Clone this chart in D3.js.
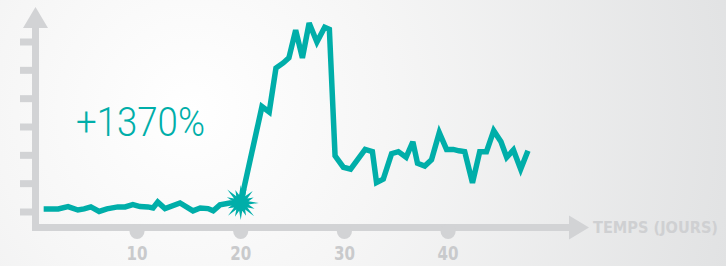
<!DOCTYPE html>
<html>
<head>
<meta charset="utf-8">
<script src="https://cdn.jsdelivr.net/npm/d3@7"></script>
<style>
  body { margin: 0; padding: 0; overflow: hidden; }
  #chart { width: 726px; height: 266px; }
</style>
</head>
<body>
<div id="chart"></div>
<script>
// values (x = days, y = index units, ticks 0..6)
const days = [1.0, 2.4, 3.35, 4.3, 4.9, 5.55, 6.35, 7.1, 8.15, 8.85, 9.6, 10.3, 11.05, 11.55, 12.0, 12.7, 14.15, 15.4, 16.1, 16.85, 17.35, 18.0, 18.95, 20.0,
  22.05, 22.75, 23.4, 24.1, 24.65, 25.3, 25.95, 26.6, 27.35, 28.1, 28.55, 29.1, 29.9, 30.6, 32.0, 32.7, 33.1, 33.75, 34.55, 35.2, 35.95, 36.6, 37.05, 37.75, 38.4,
  39.15, 39.85, 40.5, 41.05, 41.6, 42.35, 43.05, 43.7, 44.4, 45.1, 45.65, 46.3, 47.0, 47.7];
const values = [0.11, 0.11, 0.19, 0.07, 0.11, 0.18, 0.02, 0.11, 0.18, 0.18, 0.26, 0.19, 0.18, 0.14, 0.35, 0.12, 0.32, 0.04, 0.14, 0.12, 0.04, 0.25, 0.32, 0.32,
  3.72, 3.53, 5.08, 5.26, 5.44, 6.42, 5.44, 6.67, 6.0, 6.52, 6.45, 1.98, 1.58, 1.51, 2.21, 2.13, 1.04, 1.16, 2.06, 2.13, 1.93, 2.48, 1.72, 1.62, 1.84,
  2.8, 2.21, 2.21, 2.16, 2.13, 1.03, 2.13, 2.13, 2.87, 2.48, 1.93, 2.19, 1.51, 2.16];
const xTicks = [10, 20, 30, 40];
const yTicks = [0, 1, 2, 3, 4, 5, 6];
const burstIndex = 23;   // the spike marker sits on day 20
const peakLabel = "+1370%";
const xTitle = "TEMPS (JOURS)";

class SpikeChart {
    constructor(_config, _days, _values){
        this.config = {
            parentElement: _config.parentElement,
            containerWidth: _config.containerWidth || 726,
            containerHeight: _config.containerHeight || 266,
            teal: "#00aea9",
            axisColor: "#d2d3d5",
            labelColor: "#c9cacc"
        }
        this.days = _days;
        this.values = _values;
        this.initVis();
    }

    initVis(){
        let vis = this;
        vis.svg = d3.select(vis.config.parentElement)
            .append("svg")
            .attr("width", vis.config.containerWidth)
            .attr("height", vis.config.containerHeight);

        let grad = vis.svg.append("defs").append("radialGradient")
            .attr("id", "bg")
            .attr("gradientUnits", "userSpaceOnUse")
            .attr("cx", 190).attr("cy", 110).attr("r", 560);
        grad.append("stop").attr("offset", "0%").attr("stop-color", "#ffffff");
        grad.append("stop").attr("offset", "35%").attr("stop-color", "#f6f6f6");
        grad.append("stop").attr("offset", "100%").attr("stop-color", "#e1e2e3");

        vis.svg.append("rect")
            .attr("width", vis.config.containerWidth)
            .attr("height", vis.config.containerHeight)
            .attr("fill", "url(#bg)");

        vis.xScale = d3.scaleLinear()
            .domain([0, 50])
            .range([33.3, 551.8]);

        vis.yScale = d3.scaleLinear()
            .domain([0, 6])
            .range([212, 42]);

        vis.renderVis();
    }

    renderVis(){
        let vis = this;
        let c = vis.config;
        let axisY = 227.5, axisX = 35.5, bar = 7;

        // axes drawn as thick grey bars with arrow heads
        let axes = vis.svg.append("g").attr("fill", c.axisColor);
        axes.append("rect")
            .attr("x", axisX - bar / 2).attr("y", 27)
            .attr("width", bar).attr("height", axisY + bar / 2 - 27);
        axes.append("path").attr("d", `M${axisX - 12.5},28L${axisX},7L${axisX + 12.5},28Z`);
        axes.append("rect")
            .attr("x", axisX - bar / 2).attr("y", axisY - bar / 2)
            .attr("width", 570 - axisX + bar / 2).attr("height", bar);
        axes.append("path").attr("d", `M569,${axisY - 12}L589,${axisY}L569,${axisY + 12}Z`);

        axes.selectAll(".ytick")
            .data(yTicks)
            .join("rect")
                .attr("class", "ytick")
                .attr("x", 20)
                .attr("y", d => vis.yScale(d) - 3.5)
                .attr("width", axisX - 20)
                .attr("height", 7);

        axes.selectAll(".xbump")
            .data(xTicks)
            .join("circle")
                .attr("class", "xbump")
                .attr("cx", d => vis.xScale(d))
                .attr("cy", 231.5)
                .attr("r", 7.5);

        vis.svg.append("g")
            .selectAll("text")
            .data(xTicks)
            .join("text")
                .attr("x", d => vis.xScale(d))
                .attr("y", 260)
                .attr("text-anchor", "middle")
                .attr("font-family", "'DejaVu Sans Condensed', 'DejaVu Sans', sans-serif")
                .attr("font-weight", "bold")
                .attr("font-size", 20)
                .attr("textLength", d => String(d).length * 10.5)
                .attr("lengthAdjust", "spacingAndGlyphs")
                .attr("fill", c.labelColor)
                .text(d => d);

        vis.svg.append("text")
            .attr("x", 593)
            .attr("y", 233)
            .attr("font-family", "'DejaVu Sans Condensed', 'DejaVu Sans', sans-serif")
            .attr("font-weight", "bold")
            .attr("font-size", 16.5)
            .attr("textLength", 125)
            .attr("lengthAdjust", "spacingAndGlyphs")
            .attr("fill", "#cfd0d2")
            .text(xTitle);

        vis.svg.append("text")
            .attr("x", 76)
            .attr("y", 136)
            .attr("font-family", "Roboto, 'DejaVu Sans', sans-serif")
            .attr("font-weight", 300)
            .attr("font-size", 41)
            .attr("textLength", 129)
            .attr("lengthAdjust", "spacingAndGlyphs")
            .attr("fill", c.teal)
            .text(peakLabel);

        let points = vis.days.map((d, i) => [d, vis.values[i]]);
        let line = d3.line()
            .x(d => vis.xScale(d[0]))
            .y(d => vis.yScale(d[1]));

        vis.svg.append("path")
            .datum(points)
            .attr("d", line)
            .attr("fill", "none")
            .attr("stroke", c.teal)
            .attr("stroke-width", 5.5)
            .attr("stroke-linejoin", "miter")
            .attr("stroke-miterlimit", 3);

        // burst marker where the spike starts
        let spikes = [18, 15, 17, 14, 18, 15, 19, 14, 17, 15, 18, 14, 16, 15, 19, 14];
        let starPts = [];
        spikes.forEach((r, i) => {
            let a = (i / spikes.length) * 2 * Math.PI;
            starPts.push([a, r]);
            starPts.push([a + Math.PI / spikes.length, 8]);
        });
        let bx = vis.xScale(vis.days[burstIndex]), by = vis.yScale(vis.values[burstIndex]);
        vis.svg.append("path")
            .attr("transform", `translate(${bx},${by})`)
            .attr("d", d3.lineRadial().curve(d3.curveLinearClosed)(starPts))
            .attr("fill", c.teal);
    }
}

new SpikeChart({parentElement: "#chart"}, days, values);
</script>
</body>
</html>
